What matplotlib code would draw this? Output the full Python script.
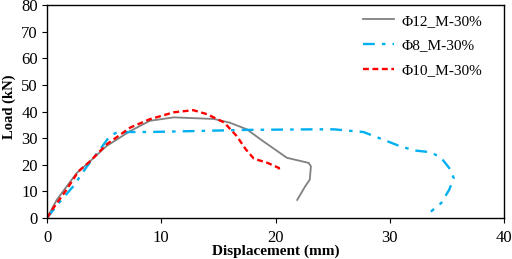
import matplotlib
matplotlib.use("Agg")
import matplotlib.pyplot as plt

plt.rcParams['font.family'] = ['Liberation Serif', 'DejaVu Serif']

# Φ12_M-30% (grey solid)
x12 = [0, 0.85, 2.6, 3.77, 5.2, 7.3, 9.0, 11.1, 13.4, 14.6, 16.0, 17.5, 18.7, 21.0, 22.9, 23.1, 23.0, 22.6, 21.9]
y12 = [0, 6.8, 16.9, 21.3, 27.0, 32.7, 36.5, 37.8, 37.4, 37.2, 35.8, 33.3, 29.5, 22.6, 20.7, 19.4, 14.4, 11.9, 6.8]

# Φ8_M-30% (cyan dash-dot)
x8 = [0, 1.14, 2.3, 3.5, 4.65, 5.5, 6.1, 7.3, 9.0, 13.4, 17.5, 23.4, 25.1, 27.7, 29.2, 30.7, 32.1, 33.6, 34.5, 35.2, 35.6, 35.2, 34.5, 33.6]
y8 = [0, 6.2, 11.9, 19.4, 25.8, 30.8, 32.1, 32.3, 32.3, 32.7, 33.1, 33.3, 33.3, 32.3, 29.8, 27.3, 25.4, 24.7, 22.6, 18.8, 15.0, 10.6, 5.6, 2.4]

# Φ10_M-30% (red dashed)
x10 = [0, 0.55, 1.7, 2.75, 3.77, 5.2, 7.3, 9.0, 11.1, 12.8, 14.0, 15.5, 16.6, 17.4, 18.1, 19.3, 20.3, 20.3]
y10 = [0, 3.7, 10.6, 17.5, 21.3, 27.6, 34.0, 37.1, 39.7, 40.5, 39.0, 35.9, 30.8, 25.8, 22.3, 20.7, 18.8, 17.5]

labels = ['Φ12_M-30%', 'Φ8_M-30%', 'Φ10_M-30%']
xticks = [0, 10, 20, 30, 40]
yticks = [0, 10, 20, 30, 40, 50, 60, 70, 80]

fig = plt.figure(figsize=(5.12, 2.59), dpi=100)
ax = fig.add_axes([47/512, 1-218/259, (504-47)/512, (218-5)/259])

ax.plot(x12, y12, color='#808080', lw=1.3, ls='-', label=labels[0])
ax.plot(x8, y8, color='#00b0f0', lw=1.7, ls=(0, (5, 3, 1.5, 3)), label=labels[1])
ax.plot(x10, y10, color='#ff0000', lw=1.7, ls=(0, (2.5, 1.5)), label=labels[2])

ax.set_xlim(0, 40)
ax.set_ylim(0, 80)
ax.set_xticks(xticks)
ax.set_yticks(yticks)
ax.tick_params(direction='out', length=3.5, width=0.8, labelsize=12, pad=3)
ax.tick_params(axis='x', pad=5)
for s in ax.spines.values():
    s.set_linewidth(1.0)
    s.set_color('black')

ax.set_xlabel('Displacement (mm)', fontsize=11, fontweight='bold', labelpad=-1)
ax.set_ylabel('Load (kN)', fontsize=10.5, fontweight='bold')
ax.yaxis.set_label_coords(-31/457, 0.52)

leg = ax.legend(loc='upper left', bbox_to_anchor=(363/512, 1-14/259), bbox_transform=fig.transFigure,
                frameon=False, fontsize=11, handlelength=2.0, handletextpad=0.5,
                labelspacing=0.72, borderpad=0, borderaxespad=0)

fig.savefig('out.png', dpi=100)
